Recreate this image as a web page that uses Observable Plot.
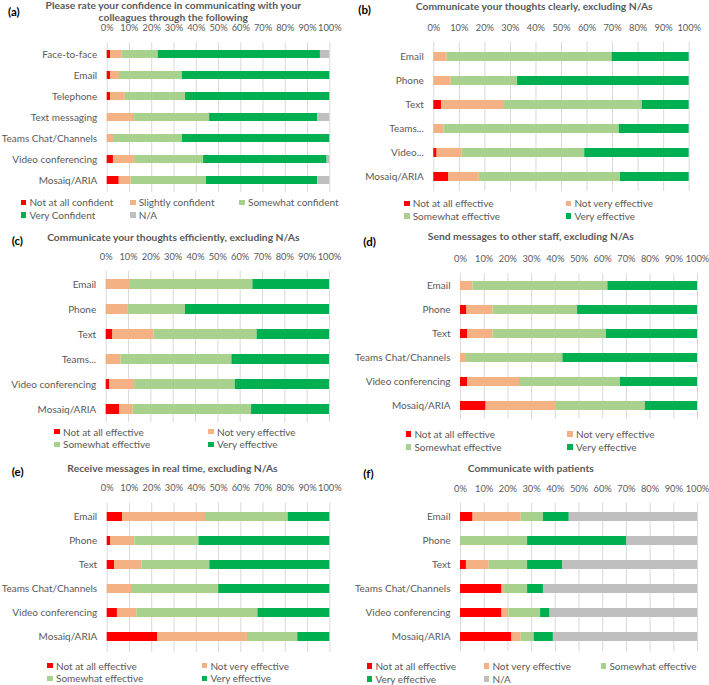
<!DOCTYPE html>
<html><head><meta charset="utf-8">
<script src="https://cdn.jsdelivr.net/npm/d3@7"></script>
<script src="https://cdn.jsdelivr.net/npm/@observablehq/plot@0.6"></script>
<style>
body{margin:0;background:#fff;}
#root{position:relative;width:709px;height:685px;overflow:hidden;font-family:Lato,sans-serif;color:#595959;}
.abs{position:absolute;}
.plabel{font-weight:bold;color:#000;font-size:11.5px;transform:translateY(-50%);}
.title{font-weight:bold;font-size:10.3px;text-align:center;line-height:11.5px;white-space:nowrap;transform:translate(-50%,-50%);}
.leg{font-size:10px;display:flex;align-items:center;white-space:nowrap;line-height:1;transform:translateY(-50%);}
.sw{width:5.5px;height:5.5px;margin-right:3.2px;flex:none;}
svg{overflow:visible;}
</style></head><body><div id="root"></div>
<script>
// ---- data ----
const tickValues = [0,10,20,30,40,50,60,70,80,90,100];
const confLevels = ["Not at all confident","Slightly confident","Somewhat confident","Very Confident","N/A"];
const effLevels = ["Not at all effective","Not very effective","Somewhat effective","Very effective"];
const patLevels = ["Not at all effective","Not very effective","Somewhat effective","Very effective","N/A"];
const colors4 = ["#FF0000","#F4B183","#A9D18E","#00B050"];
const colors5 = ["#FF0000","#F4B183","#A9D18E","#00B050","#BFBFBF"];

const catsA = ["Face-to-face","Email","Telephone","Text messaging","Teams Chat/Channels","Video conferencing","Mosaiq/ARIA"];
const valuesA = [[1.5,5.2,16.2,72.9,4.2],[1.5,4.0,28.3,66.2,0],[1.5,6.6,27.1,64.8,0],[0,12.3,33.7,48.6,5.4],[0,2.8,31.0,66.2,0],[2.8,9.5,31.0,55.5,1.2],[5.4,5.4,33.8,50.0,5.4]];

const catsB = ["Email","Phone","Text","Teams...","Video...","Mosaiq/ARIA"];
const valuesB = [[0,5.2,64.6,30.2],[0,6.8,26.0,67.2],[3.0,24.7,53.9,18.4],[0,4.0,68.6,27.4],[1.3,9.8,48.0,40.9],[5.9,11.9,55.3,26.9]];

const catsC = ["Email","Phone","Text","Teams...","Video conferencing","Mosaiq/ARIA"];
const valuesC = [[0,10.9,54.8,34.3],[0,9.6,25.9,64.5],[3.0,18.5,46.1,32.4],[0,6.7,49.6,43.7],[1.5,11.2,45.1,42.2],[6.0,6.1,53.0,34.9]];

const catsD = ["Email","Phone","Text","Teams Chat/Channels","Video conferencing","Mosaiq/ARIA"];
const valuesD = [[0,5.3,56.9,37.8],[2.7,11.0,35.7,50.6],[3.0,10.7,47.9,38.4],[0,2.5,40.7,56.8],[3.0,21.9,42.6,32.5],[10.8,29.7,37.5,22.0]];

const catsE = ["Email","Phone","Text","Teams Chat/Channels","Video conferencing","Mosaiq/ARIA"];
const valuesE = [[6.9,37.7,36.7,18.7],[1.5,10.9,28.8,58.8],[3.3,12.3,30.5,53.9],[0,10.9,39.2,49.9],[4.6,8.7,54.4,32.3],[22.6,40.4,22.6,14.4]];

const catsF = ["Email","Phone","Text","Teams Chat/Channels","Video conferencing","Mosaiq/ARIA"];
const valuesF = [[5.3,20.3,9.4,10.9,54.1],[0,0,28.3,41.9,29.8],[2.5,9.6,16.2,14.9,56.8],[17.5,1.1,9.7,6.7,65.0],[17.5,2.9,13.4,4.0,62.2],[21.7,3.9,5.5,8.1,60.8]];

// ---- layout ----
const panels = [
  {tag:"(a)", tagX:8, tagY:10.5, title:["Please rate your confidence in communicating with your","colleagues through the following"], titleX:173.3, titleY:11.3,
   cats:catsA, values:valuesA, levels:confLevels, colors:colors5, left:0, px:[106.7,329.3], tickY:28.3, band:[42.5,192.5],
   legX:20.7, legY:202.3, colW:109.3, cols:3, rowH:12.8},
  {tag:"(b)", tagX:358.3, tagY:9, title:["Communicate your thoughts clearly, excluding N/As"], titleX:534.2, titleY:7.3,
   cats:catsB, values:valuesB, levels:effLevels, colors:colors4, left:355, px:[433.3,688.7], tickY:28.3, band:[41.9,191.5],
   legX:404, legY:203.3, colW:161.7, cols:2, rowH:12.7},
  {tag:"(c)", tagX:11.7, tagY:240, title:["Communicate your thoughts efficiently, excluding N/As"], titleX:173.3, titleY:237.7,
   cats:catsC, values:valuesC, levels:effLevels, colors:colors4, left:0, px:[105.7,329], tickY:256.7, band:[270.4,421.8],
   legX:54.3, legY:431.7, colW:154, cols:2, rowH:12.6},
  {tag:"(d)", tagX:363.3, tagY:241, title:["Send messages to other staff, excluding N/As"], titleX:530.8, titleY:237.3,
   cats:catsD, values:valuesD, levels:effLevels, colors:colors4, left:355, px:[460,697], tickY:258.7, band:[272.9,418.5],
   legX:405.7, legY:434, colW:161.6, cols:2, rowH:13},
  {tag:"(e)", tagX:11.7, tagY:471, title:["Receive messages in real time, excluding N/As"], titleX:172.5, titleY:469,
   cats:catsE, values:valuesE, levels:effLevels, colors:colors4, left:0, px:[106.7,329.3], tickY:488.3, band:[502.7,652.1],
   legX:47.3, legY:665.7, colW:154.4, cols:2, rowH:12.6},
  {tag:"(f)", tagX:363.3, tagY:473.3, title:["Communicate with patients"], titleX:530.8, titleY:469,
   cats:catsF, values:valuesF, levels:patLevels, colors:colors5, left:355, px:[460,697], tickY:488.7, band:[502.4,651.2],
   legX:366.7, legY:666, colW:117, cols:3, rowH:13}
];

const root = document.getElementById("root");
function el(cls, x, y, html) {
  const d = document.createElement("div");
  d.className = "abs " + cls;
  d.style.left = x + "px"; d.style.top = y + "px";
  if (html != null) d.innerHTML = html;
  root.appendChild(d);
  return d;
}

for (const p of panels) {
  el("plabel", p.tagX, p.tagY, p.tag);
  el("title", p.titleX, p.titleY, p.title.join("<br>"));
  const rows = [];
  p.cats.forEach((c, i) => p.levels.forEach((l, j) => rows.push({cat: c, level: l, value: p.values[i][j]})));
  const W = 354;
  const svgTop = p.tickY - 10;
  const mt = p.band[0] - svgTop;
  const H = mt + (p.band[1] - p.band[0]) + 3;
  const chart = Plot.plot({
    width: W, height: H,
    marginTop: mt, marginBottom: 3,
    marginLeft: p.px[0] - p.left, marginRight: p.left + W - p.px[1],
    style: {fontFamily: "Lato, sans-serif", color: "#595959", background: "transparent", overflow: "visible"},
    x: {domain: [0, 100], label: null},
    y: {domain: p.cats, paddingInner: 0.61, paddingOuter: 0.305, label: null},
    color: {domain: p.levels, range: p.colors},
    marks: [
      Plot.gridX(tickValues, {stroke: "#d9d9d9", strokeOpacity: 1, strokeWidth: 1}),
      Plot.barX(rows, Plot.stackX({x: "value", y: "cat", fill: "level"})),
      Plot.axisX(tickValues, {anchor: "top", tickSize: 0, tickPadding: mt - 10, lineAnchor: "middle", tickFormat: d => d + "%", fontSize: 9.3, label: null}),
      Plot.axisY({tickSize: 0, tickPadding: 10, fontSize: 10, label: null})
    ]
  });
  chart.style.position = "absolute";
  chart.style.left = p.left + "px";
  chart.style.top = svgTop + "px";
  root.appendChild(chart);
  p.levels.forEach((l, i) => {
    const x = p.legX + (i % p.cols) * p.colW;
    const y = p.legY + Math.floor(i / p.cols) * p.rowH;
    el("leg", x, y, `<span class="sw" style="background:${p.colors[i]}"></span><span>${l}</span>`);
  });
}
</script>
</body></html>
